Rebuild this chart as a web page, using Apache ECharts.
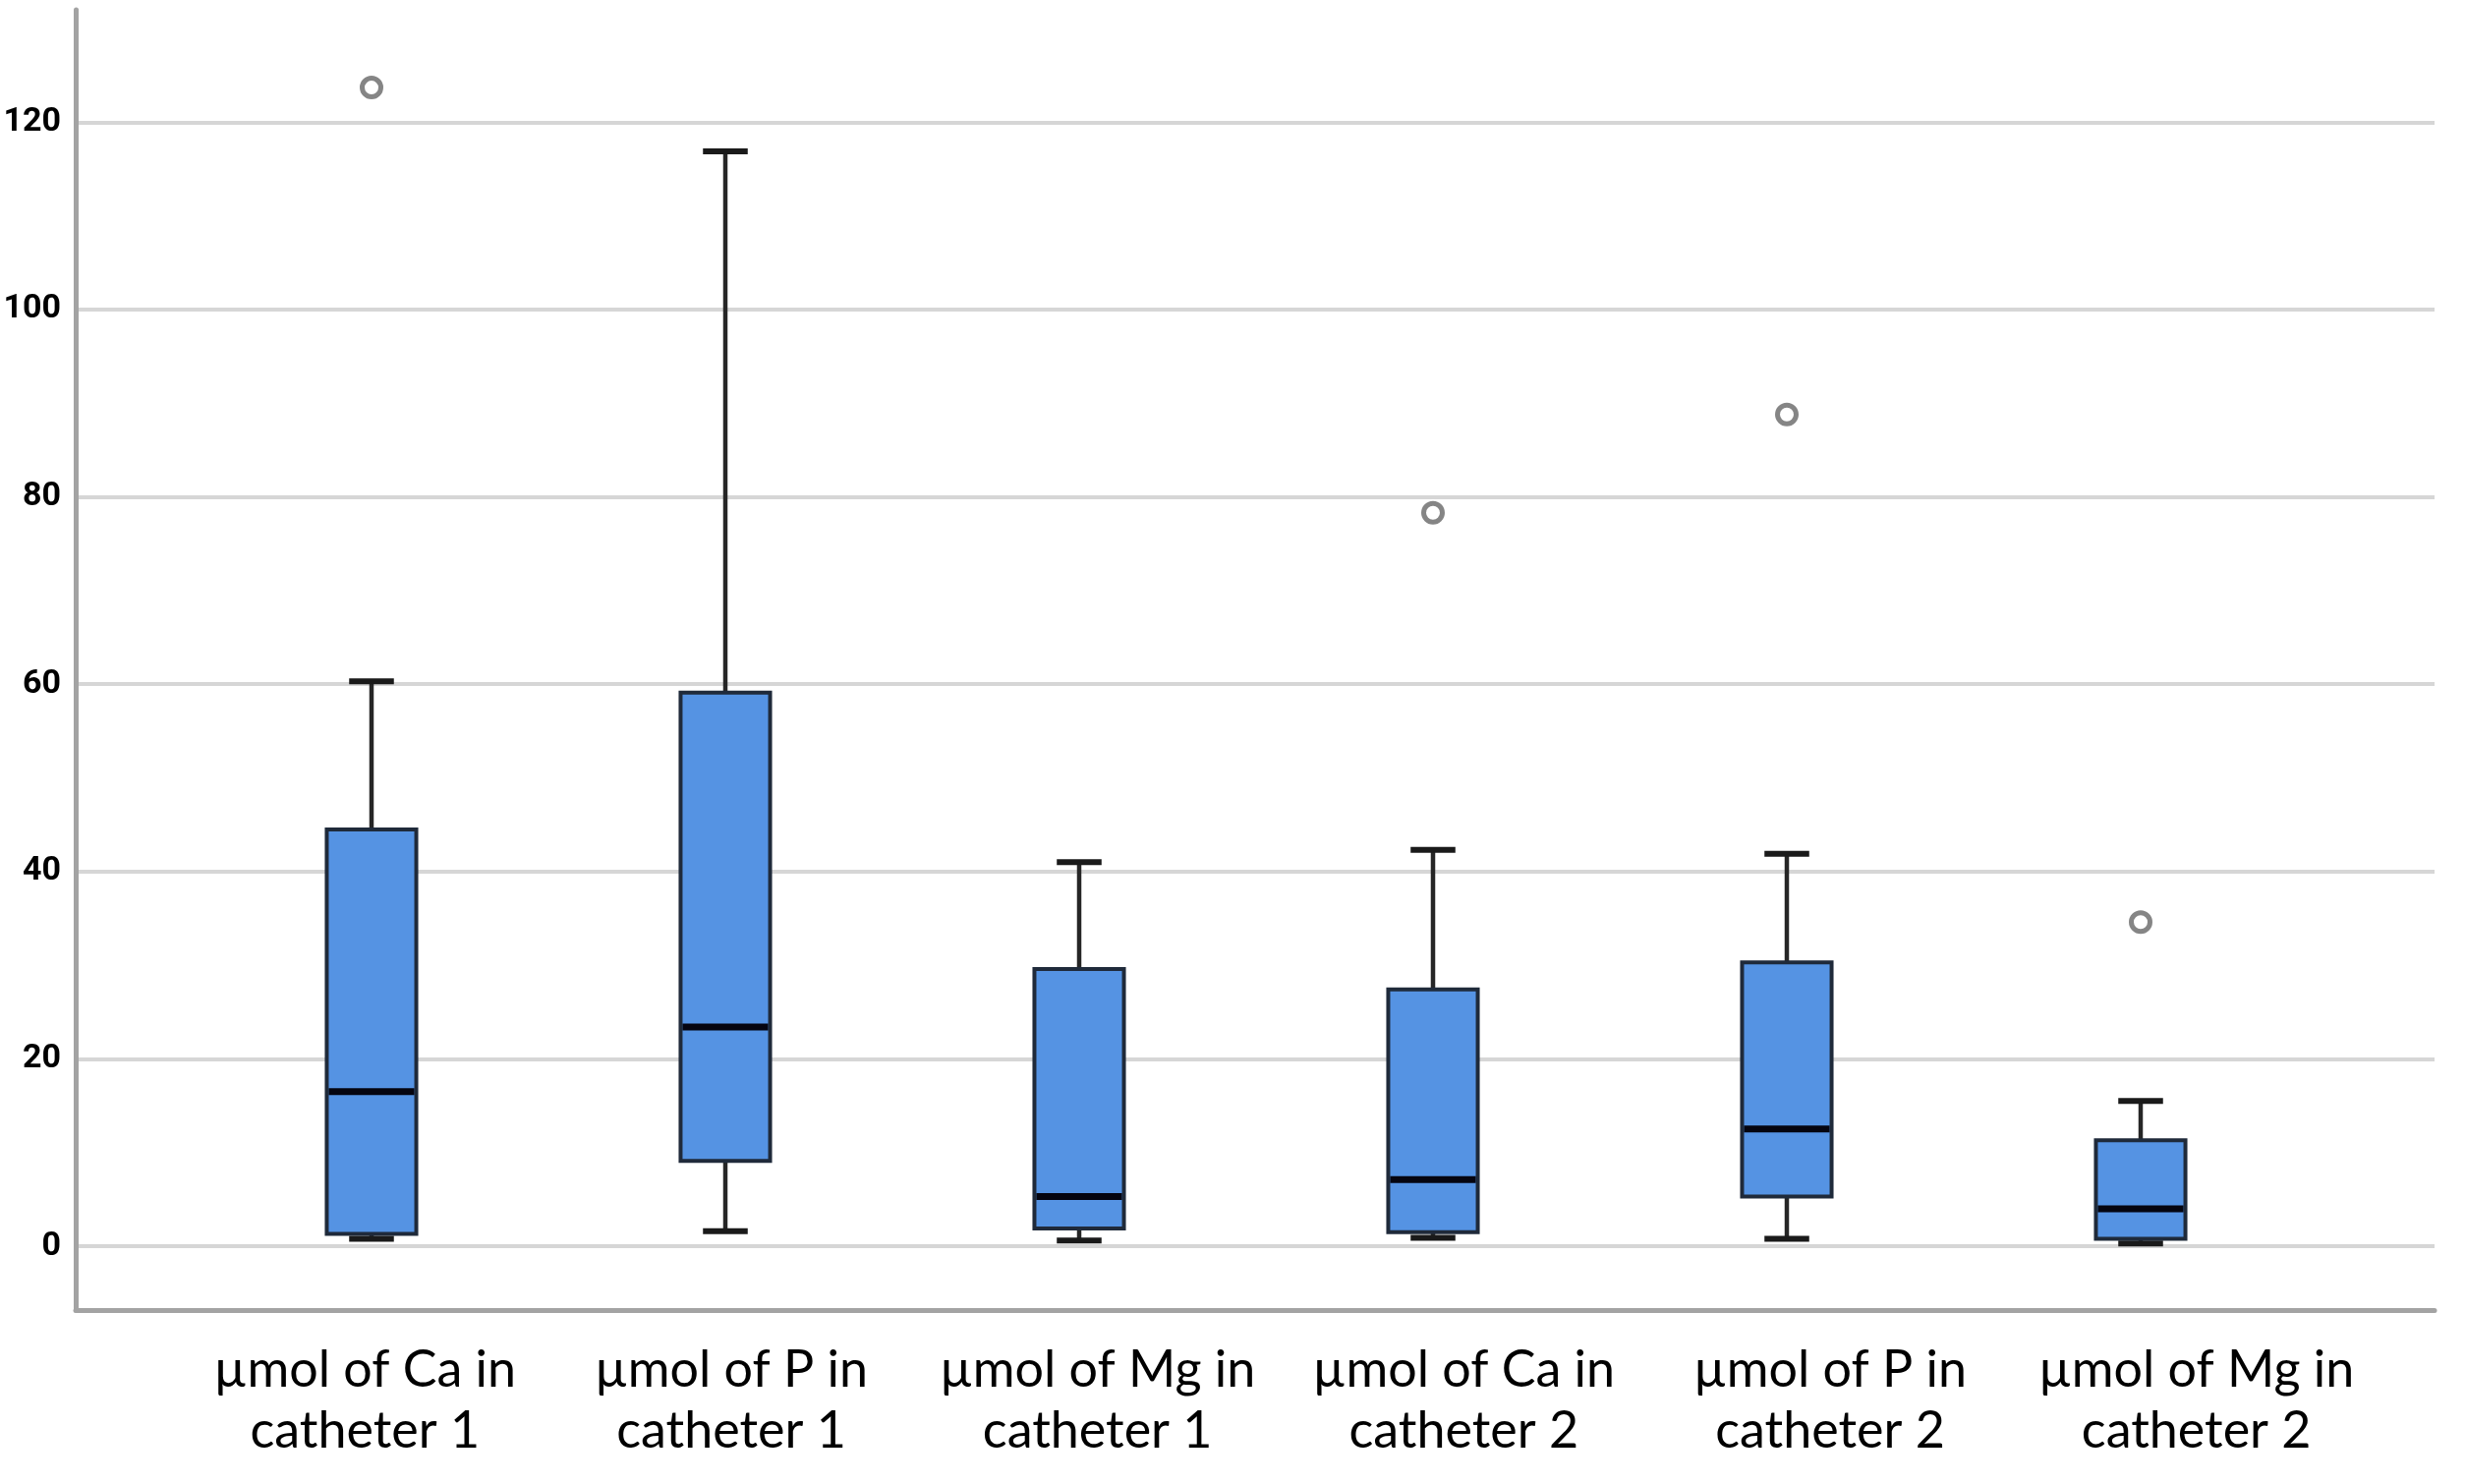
<!DOCTYPE html>
<html>
<head>
<meta charset="utf-8">
<script src="https://cdn.jsdelivr.net/npm/echarts@6/dist/echarts.min.js"></script>
<style>html,body{margin:0;padding:0;background:#fff;}#c{width:2508px;height:1510px;}</style>
</head>
<body>
<div id="c"></div>
<script>
const categories = [
  'µmol of Ca in\ncatheter 1',
  'µmol of P in\ncatheter 1',
  'µmol of Mg in\ncatheter 1',
  'µmol of Ca in\ncatheter 2',
  'µmol of P in\ncatheter 2',
  'µmol of Mg in\ncatheter 2'
];
// five-number summaries: [min, Q1, median, Q3, max]
const whiskerLow  = [0.8, 1.6, 0.6, 0.9, 0.8, 0.3];
const q1Values    = [1.3, 9.1, 1.9, 1.5, 5.3, 0.8];
const medians     = [16.5, 23.4, 5.3, 7.1, 12.5, 4.0];
const q3Values    = [44.5, 59.1, 29.6, 27.4, 30.3, 11.3];
const whiskerHigh = [60.3, 116.9, 41.0, 42.3, 41.9, 15.5];
// outliers: [category index, value]
const outliers = [[0, 123.7], [3, 78.3], [4, 88.8], [5, 34.6]];
const yMin = -6.82, yMax = 132;

const boxData = categories.map((c, i) => [i, whiskerLow[i], q1Values[i], medians[i], q3Values[i], whiskerHigh[i]]);

const chart = echarts.init(document.getElementById('c'), null, {renderer: 'canvas'});

function renderBox(params, api) {
  const idx = api.value(0);
  const band = api.size([1, 0])[0];
  const boxW = band * 0.253;
  const capW = boxW / 2;
  const pMin = api.coord([idx, api.value(1)]);
  const pQ1 = api.coord([idx, api.value(2)]);
  const pMed = api.coord([idx, api.value(3)]);
  const pQ3 = api.coord([idx, api.value(4)]);
  const pMax = api.coord([idx, api.value(5)]);
  const cx = pMed[0];
  const lineCol = '#262626';
  return {
    type: 'group',
    children: [
      {type: 'line', shape: {x1: cx, y1: pQ3[1], x2: cx, y2: pMax[1]}, style: {stroke: lineCol, lineWidth: 4.5}},
      {type: 'line', shape: {x1: cx, y1: pQ1[1], x2: cx, y2: pMin[1]}, style: {stroke: lineCol, lineWidth: 4.5}},
      {type: 'line', shape: {x1: cx - capW / 2, y1: pMax[1], x2: cx + capW / 2, y2: pMax[1]}, style: {stroke: '#1a1a1a', lineWidth: 6}},
      {type: 'line', shape: {x1: cx - capW / 2, y1: pMin[1], x2: cx + capW / 2, y2: pMin[1]}, style: {stroke: '#1a1a1a', lineWidth: 6}},
      {type: 'rect', shape: {x: cx - boxW / 2, y: pQ3[1], width: boxW, height: pQ1[1] - pQ3[1]},
        style: {fill: '#5593e3', stroke: '#1f2a3a', lineWidth: 4}},
      {type: 'line', shape: {x1: cx - boxW / 2 + 2, y1: pMed[1], x2: cx + boxW / 2 - 2, y2: pMed[1]}, style: {stroke: '#050510', lineWidth: 7}}
    ]
  };
}

const labelStyle = {interval: 0, margin: 30, color: '#000', fontFamily: 'Lato', fontSize: 52, lineHeight: 62};

const option = {
  animation: false,
  backgroundColor: '#ffffff',
  grid: [
    {left: 77, right: 31, top: 10, bottom: 177, containLabel: false},
    {left: 198, right: 150, top: 10, bottom: 177, containLabel: false},
    {left: 185, right: 87, top: 10, bottom: 177, containLabel: false}
  ],
  xAxis: [
    {gridIndex: 0, type: 'value', min: 0, max: 1,
      axisLine: {show: true, onZero: false, lineStyle: {color: '#a3a3a3', width: 5}},
      axisTick: {show: false}, axisLabel: {show: false}, splitLine: {show: false}},
    {gridIndex: 1, type: 'category', data: categories,
      axisLine: {show: false}, axisTick: {show: false}, splitLine: {show: false}, axisLabel: {show: false}},
    {gridIndex: 2, type: 'category', data: categories,
      axisLine: {show: false}, axisTick: {show: false}, splitLine: {show: false}, axisLabel: labelStyle}
  ],
  yAxis: [
    {gridIndex: 0, type: 'value', min: yMin, max: yMax, minInterval: 20, maxInterval: 20, splitNumber: 7,
      axisLine: {show: true, onZero: false, lineStyle: {color: '#a3a3a3', width: 5}},
      axisTick: {show: false},
      axisLabel: {margin: 15, color: '#000', fontFamily: "'Liberation Sans Narrow', Roboto, sans-serif",
        fontWeight: 'bold', fontSize: 34, showMinLabel: false, showMaxLabel: false,
        formatter: v => (Math.abs(v % 20) < 1e-6 ? String(Math.round(v)) : '')},
      splitLine: {show: true, showMinLine: false, showMaxLine: false, lineStyle: {color: '#d6d6d6', width: 4}}},
    {gridIndex: 1, type: 'value', min: yMin, max: yMax, show: false, splitLine: {show: false}},
    {gridIndex: 2, type: 'value', min: yMin, max: yMax, show: false, splitLine: {show: false}}
  ],
  series: [
    {type: 'custom', xAxisIndex: 1, yAxisIndex: 1, data: boxData, renderItem: renderBox,
      encode: {x: 0, y: [1, 2, 3, 4, 5]}, z: 3},
    {type: 'scatter', xAxisIndex: 1, yAxisIndex: 1, data: outliers, symbol: 'circle', symbolSize: 19,
      itemStyle: {color: '#ffffff', borderColor: '#676767', borderWidth: 5}, z: 4}
  ]
};
chart.setOption(option);
</script>
</body>
</html>
